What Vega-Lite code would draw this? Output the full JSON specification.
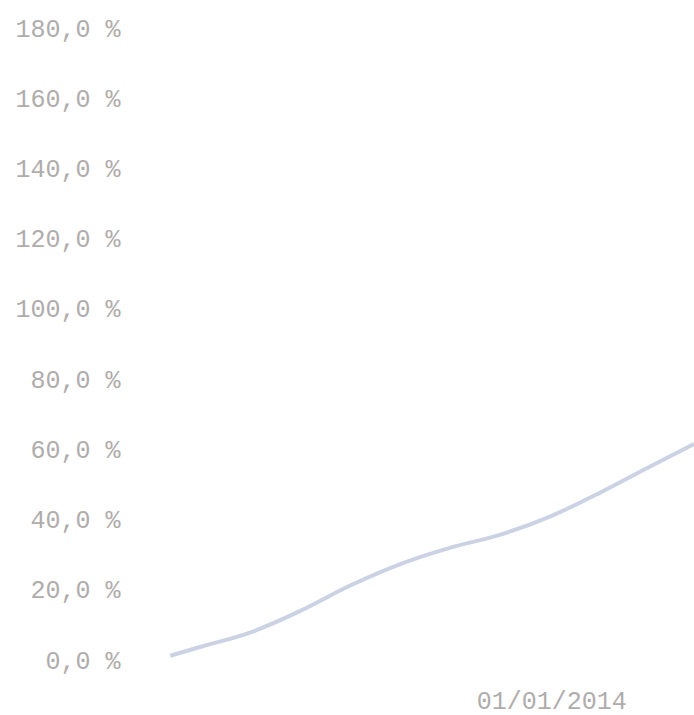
{
  "$schema": "https://vega.github.io/schema/vega-lite/v6.json",
  "width": 529,
  "height": 632,
  "autosize": {"type": "none"},
  "padding": {"left": 165, "top": 28, "right": 0, "bottom": 55},
  "background": "white",
  "config": {"view": {"stroke": null}},
  "data": {
    "values": [
      {"date": "2013-01-06", "value": 1.2},
      {"date": "2013-02-03", "value": 3.7},
      {"date": "2013-03-23", "value": 7.9},
      {"date": "2013-05-09", "value": 14.0},
      {"date": "2013-06-25", "value": 21.2},
      {"date": "2013-08-12", "value": 27.4},
      {"date": "2013-09-28", "value": 32.0},
      {"date": "2013-11-15", "value": 35.8},
      {"date": "2014-01-01", "value": 41.0},
      {"date": "2014-02-17", "value": 47.8},
      {"date": "2014-04-05", "value": 55.2},
      {"date": "2014-05-16", "value": 61.5}
    ]
  },
  "mark": {"type": "line", "color": "#cbd2e3", "strokeWidth": 4, "interpolate": "monotone", "clip": true},
  "encoding": {
    "x": {
      "field": "date",
      "type": "temporal",
      "scale": {"type": "utc", "domain": [{"year": 2013, "month": 1, "date": 1, "utc": true}, {"year": 2014, "month": 5, "date": 16, "utc": true}]},
      "axis": {
        "title": null,
        "values": [{"year": 2014, "month": 1, "date": 1, "utc": true}],
        "labelExpr": "utcFormat(datum.value, '%d/%m/%Y')",
        "grid": false,
        "domain": false,
        "ticks": false,
        "labelPadding": 28,
        "labelFont": "Liberation Mono",
        "labelFontSize": 25,
        "labelColor": "#b0acac"
      }
    },
    "y": {
      "field": "value",
      "type": "quantitative",
      "scale": {"domain": [0, 180]},
      "axis": {
        "title": null,
        "values": [0, 20, 40, 60, 80, 100, 120, 140, 160, 180],
        "labelExpr": "replace(format(datum.value, '.1f'), '.', ',') + ' %'",
        "grid": false,
        "domain": false,
        "ticks": false,
        "labelPadding": 45,
        "labelFont": "Liberation Mono",
        "labelFontSize": 25,
        "labelColor": "#b0acac"
      }
    }
  }
}
